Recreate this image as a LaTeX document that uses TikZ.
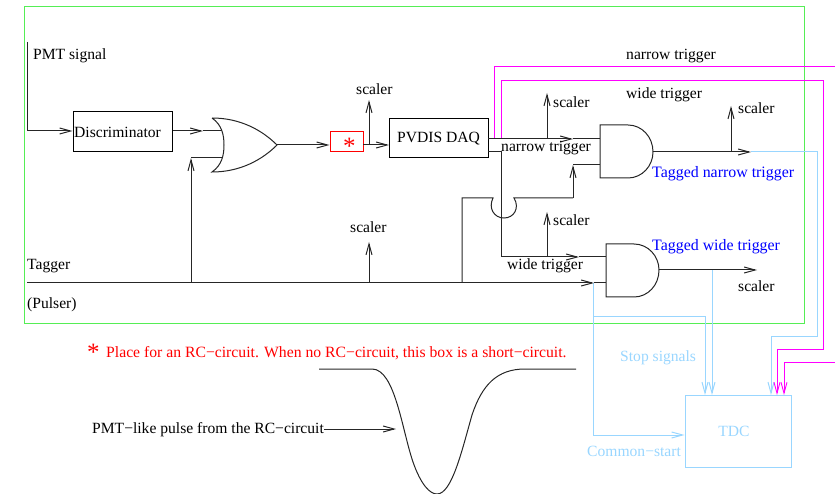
\documentclass[tikz,border=0pt]{standalone}
\usepackage{fontspec}
\setmainfont{Liberation Serif}
\usetikzlibrary{positioning, arrows.meta}
\definecolor{tdcblue}{HTML}{99D6FF}
\definecolor{framegreen}{HTML}{55EE55}
\definecolor{pinkline}{HTML}{FF00FF}
\definecolor{tagblue}{HTML}{0000FF}
\begin{document}
\begin{tikzpicture}[x=1pt, y=-1pt, >={Straight Barb[length=11pt, width=6pt]}, font=\fontsize{15.6}{18}\selectfont]
\tikzstyle{wire}=[line width=1pt, black!85]
\tikzstyle{box}=[draw, line width=1pt, inner sep=0pt, minimum height=40pt]
\tikzstyle{label}=[inner sep=0pt, anchor=west]
\tikzstyle{bluewire}=[line width=1pt, tdcblue]
\tikzstyle{pinkwire}=[line width=0.9pt, pinkline]
\useasboundingbox (0,0) rectangle (835,494);
\draw[framegreen, line width=1pt] (24,7) rectangle (804,323);
% boxes
\node[box, minimum width=99pt] (disc) at (122.5,132) {\hspace{-10pt}Discriminator};
\node[box, minimum width=99pt, minimum height=39pt] (daq) at (438.5,138.5) {PVDIS DAQ};
\node[box, line width=1pt, draw=red, text=red, minimum width=33pt, minimum height=20pt] (rc) at (346.5,142) {};
\node[label, text=red, font=\fontsize{25}{25}\selectfont] (lrcstar) at (343,146) {*};
\node[box, line width=1pt, draw=tdcblue, text=tdcblue, minimum width=106pt, minimum height=72pt] (tdc) at (738,431) {\hspace{-8pt}TDC};
% gates
\draw[wire] (212,118) .. controls (240,118) and (262,130) .. (277,145) .. controls (262,160) and (240,172) .. (212,172) .. controls (222,165) and (224,155) .. (224,145) .. controls (224,135) and (222,125) .. (212,118);
\draw[wire] (600,125) -- (628,125) .. controls (642,125) and (653,137) .. (653,152) .. controls (653,166) and (642,178) .. (628,178) -- (600,178) -- cycle;
\draw[wire] (606,244) -- (634,244) .. controls (648,244) and (659,256) .. (659,270) .. controls (659,285) and (648,297) .. (634,297) -- (606,297) -- cycle;
\coordinate (pmt) at (27,42);
\coordinate (pmtc) at (27,131);
\coordinate (orA) at (222,131);
\coordinate (orB) at (222,158);
\coordinate (orOut) at (277,145);
\coordinate (orBc) at (191,158);
\coordinate (tagger) at (27,283);
\coordinate (taggerOr) at (191,283);
\coordinate (taggerS) at (369,283);
\coordinate (taggerJ) at (462,283);
\coordinate (taggerTdc) at (593,283);
\coordinate (taggerEnd) at (606,283);
\coordinate (taggerTip) at (594,283);
\coordinate (scalerT) at (369,242);
\coordinate (rcOut) at (363,145);
\coordinate (rcS) at (369,145);
\coordinate (rcTip) at (389,145);
\coordinate (scalerR) at (369,100);
\coordinate (narrowA) at (488,139);
\coordinate (narrowS) at (547,139);
\coordinate (narrowTip) at (573,139);
\coordinate (narrowEnd) at (600,139);
\coordinate (scalerN) at (547,93);
\coordinate (wideA) at (488,152);
\coordinate (wideB) at (501,152);
\coordinate (wideC) at (501,257);
\coordinate (wideS) at (547,257);
\coordinate (wideTip) at (579,257);
\coordinate (wideEnd) at (606,257);
\coordinate (scalerW) at (547,212);
\coordinate (hopA) at (462,198);
\coordinate (hopB) at (493,198);
\coordinate (hopC) at (514,198);
\coordinate (hopD) at (573,198);
\coordinate (hopE) at (573,165);
\coordinate (hopF) at (600,165);
\coordinate (tagN) at (653,152);
\coordinate (tagNS) at (731,152);
\coordinate (tagNTip) at (751,152);
\coordinate (scalerTN) at (731,106);
\coordinate (tagW) at (659,270);
\coordinate (tagWB) at (712,270);
\coordinate (tagWTip) at (757,270);
% TDC wiring
\coordinate (stopA) at (705,395);
\coordinate (stopB) at (712,395);
\coordinate (stopC) at (771,395);
\coordinate (stopD) at (777,395);
\coordinate (stopE) at (784,395);
\coordinate (pinkOut) at (835,66);
\coordinate (pinkIn) at (835,362);
\draw[bluewire] (tagNTip) -- (817,152) -- (817,336) -- (771,336);
\draw[bluewire, ->] (771,336) -- (stopC);
\draw[bluewire, ->] (tagWB) -- (stopB);
\draw[bluewire, ->] (593,316) -- (705,316) -- (stopA);
\draw[bluewire, ->] (taggerTdc) -- (593,435) -- (tdc.west |- 593,435);
\draw[pinkwire] (494,139) -- (494,66) -- (pinkOut);
\draw[pinkwire, ->] (pinkIn) -- (784,362) -- (stopE);
\draw[pinkwire, ->] (501,139) -- (501,80) -- (823,80) -- (823,349) -- (777,349) -- (stopD);
% black wiring
\draw[wire, ->] (pmt) -- (pmtc) -- (disc.west |- pmtc);
\draw[wire, ->] (disc.east |- pmtc) -- (203,131);
\draw[wire] (203,131) -- (orA);
\draw[wire, ->] (taggerOr) -- (orBc);
\draw[wire] (orBc) -- (orB);
\draw[wire, ->] (orOut) -- (rc.west |- orOut);
\draw[wire, ->] (rcOut) -- (rcTip);
\draw[wire, ->] (rcS) -- (scalerR);
\draw[wire, ->] (tagger) -- (taggerTip);
\draw[wire] (taggerTip) -- (taggerEnd);
\draw[wire, ->] (taggerS) -- (scalerT);
\draw[wire] (taggerJ) -- (hopA) -- (hopB) .. controls (488,208) and (494,218) .. (504,218) .. controls (514,218) and (520,208) .. (514,198) -- (hopC) -- (hopD);
\draw[wire, ->] (hopD) -- (hopE);
\draw[wire] (hopE) -- (hopF);
\draw[wire, ->] (narrowA) -- (narrowTip);
\draw[wire] (narrowTip) -- (narrowEnd);
\draw[wire, ->] (narrowS) -- (scalerN);
\draw[wire, ->] (wideC) -- (wideTip);
\draw[wire] (wideA) -- (wideB) -- (wideC);
\draw[wire] (wideTip) -- (wideEnd);
\draw[wire, ->] (wideS) -- (scalerW);
\draw[wire, ->] (tagN) -- (tagNTip);
\draw[wire, ->] (tagNS) -- (scalerTN);
\draw[wire, ->] (tagW) -- (tagWTip);
% labels
\node[label] (lpmt) at (33,56) {PMT signal};
\node[label] (ltagger) at (27,266) {Tagger};
\node[label] (lpulser) at (27,305) {(Pulser)};
\node[label] (ls1) at (356,89) {scaler};
\node[label] (ls2) at (553,102) {scaler};
\node[label] (ls3) at (738,108) {scaler};
\node[label] (ls4) at (350,227) {scaler};
\node[label] (ls5) at (553,220) {scaler};
\node[label] (ls6) at (738,286) {scaler};
\node[label] (lnarrowtop) at (626,56) {narrow trigger};
\node[label] (lwidetop) at (626,95) {wide trigger};
\node[label] (lnarrow) at (501,148) {narrow trigger};
\node[label] (lwide) at (507,266) {wide trigger};
\node[label, text=tagblue, font=\fontsize{15.9}{18}\selectfont] (ltagn) at (652,174) {Tagged narrow trigger};
\node[label, text=tagblue, font=\fontsize{15.9}{18}\selectfont] (ltagw) at (652,247) {Tagged wide trigger};
\node[label, text=tdcblue] (lstop) at (620,358) {Stop signals};
\node[label, text=tdcblue] (lstart) at (587,451) {Common−start};
\node[label, text=red, font=\fontsize{25}{25}\selectfont] (lstar) at (87,352) {*};
\node[label, text=red, font=\fontsize{15.7}{18}\selectfont] (lrc) at (106,353) {Place for an RC−circuit. When no RC−circuit, this box is a short−circuit.};
\node[label] (lpulse) at (92,430) {PMT−like pulse from the RC−circuit};
% pulse
\coordinate (pulseTip) at (396,429);
\draw[wire, ->] (lpulse.east |- pulseTip) -- (pulseTip);
\draw[wire] (319,369) -- (372,369) .. controls (395,369) and (402,430) .. (413,462) .. controls (421,485) and (430,494) .. (437,494) .. controls (452,494) and (462,450) .. (472,415) .. controls (482,385) and (497,369) .. (525,369) -- (576,369);
\end{tikzpicture}
\end{document}
